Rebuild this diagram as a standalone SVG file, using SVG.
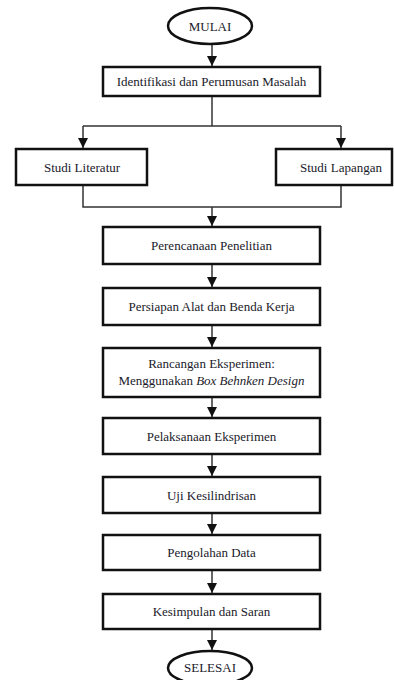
<svg xmlns="http://www.w3.org/2000/svg" width="394" height="680" viewBox="0 0 394 680">
<style>
.box{fill:#fff;stroke:#111;stroke-width:2.5}
.term{fill:#fff;stroke:#111;stroke-width:2.5}
.t{font-family:'Liberation Serif','DejaVu Serif',serif;font-size:13px;fill:#1a1a2a;text-anchor:middle;dominant-baseline:central}
.c{fill:none;stroke:#333;stroke-width:1.5}
</style>
<defs>
<marker id="ah" markerUnits="userSpaceOnUse" markerWidth="10" markerHeight="10" refX="10" refY="5" orient="auto">
<path d="M0,0 L10,5 L0,10 z" fill="#111"/>
</marker>
</defs>
<rect width="394" height="680" fill="#fff"/>
<g id="connectors">
<line class="c" x1="212" y1="44" x2="212" y2="66" marker-end="url(#ah)"/>
<polyline class="c" points="212,96 212,126"/>
<polyline class="c" points="83,126 341,126"/>
<line class="c" x1="83" y1="126" x2="83" y2="148" marker-end="url(#ah)"/>
<line class="c" x1="341" y1="126" x2="341" y2="148" marker-end="url(#ah)"/>
<polyline class="c" points="83,185 83,207 341,207 341,185"/>
<line class="c" x1="212" y1="207" x2="212" y2="226" marker-end="url(#ah)"/>
<line class="c" x1="212" y1="264" x2="212" y2="287" marker-end="url(#ah)"/>
<line class="c" x1="212" y1="325" x2="212" y2="347" marker-end="url(#ah)"/>
<line class="c" x1="212" y1="397" x2="212" y2="417" marker-end="url(#ah)"/>
<line class="c" x1="212" y1="454" x2="212" y2="476" marker-end="url(#ah)"/>
<line class="c" x1="212" y1="513" x2="212" y2="534" marker-end="url(#ah)"/>
<line class="c" x1="212" y1="570" x2="212" y2="593" marker-end="url(#ah)"/>
<line class="c" x1="212" y1="629" x2="212" y2="650" marker-end="url(#ah)"/>
</g>
<g id="mulai">
<ellipse class="term" cx="210" cy="26" rx="42" ry="18"/>
<text class="t" x="210" y="26">MULAI</text>
</g>
<g id="identifikasi">
<rect class="box" x="103" y="67" width="217" height="29"/>
<text class="t" x="211.5" y="81.5">Identifikasi dan Perumusan Masalah</text>
</g>
<g id="literatur">
<rect class="box" x="16" y="149" width="131" height="36"/>
<text class="t" x="82" y="167">Studi Literatur</text>
</g>
<g id="lapangan">
<rect class="box" x="276" y="149" width="116" height="36"/>
<text class="t" x="341" y="167">Studi Lapangan</text>
</g>
<g id="perencanaan">
<rect class="box" x="103" y="227" width="217" height="37"/>
<text class="t" x="211.5" y="245.5">Perencanaan Penelitian</text>
</g>
<g id="persiapan">
<rect class="box" x="103" y="288" width="217" height="37"/>
<text class="t" x="211.5" y="306.5">Persiapan Alat dan Benda Kerja</text>
</g>
<g id="rancangan">
<rect class="box" x="103" y="348" width="217" height="49"/>
<text class="t" x="211.5" y="363">Rancangan Eksperimen:</text>
<text class="t" x="211.5" y="380">Menggunakan <tspan font-style="italic">Box Behnken Design</tspan></text>
</g>
<g id="pelaksanaan">
<rect class="box" x="103" y="418" width="217" height="36"/>
<text class="t" x="211.5" y="436">Pelaksanaan Eksperimen</text>
</g>
<g id="uji">
<rect class="box" x="103" y="477" width="217" height="36"/>
<text class="t" x="211.5" y="495">Uji Kesilindrisan</text>
</g>
<g id="pengolahan">
<rect class="box" x="103" y="535" width="217" height="35"/>
<text class="t" x="211.5" y="552.5">Pengolahan Data</text>
</g>
<g id="kesimpulan">
<rect class="box" x="103" y="594" width="217" height="35"/>
<text class="t" x="211.5" y="611.5">Kesimpulan dan Saran</text>
</g>
<g id="selesai">
<ellipse class="term" cx="210" cy="668" rx="42" ry="17"/>
<text class="t" x="210" y="667">SELESAI</text>
</g>
</svg>
